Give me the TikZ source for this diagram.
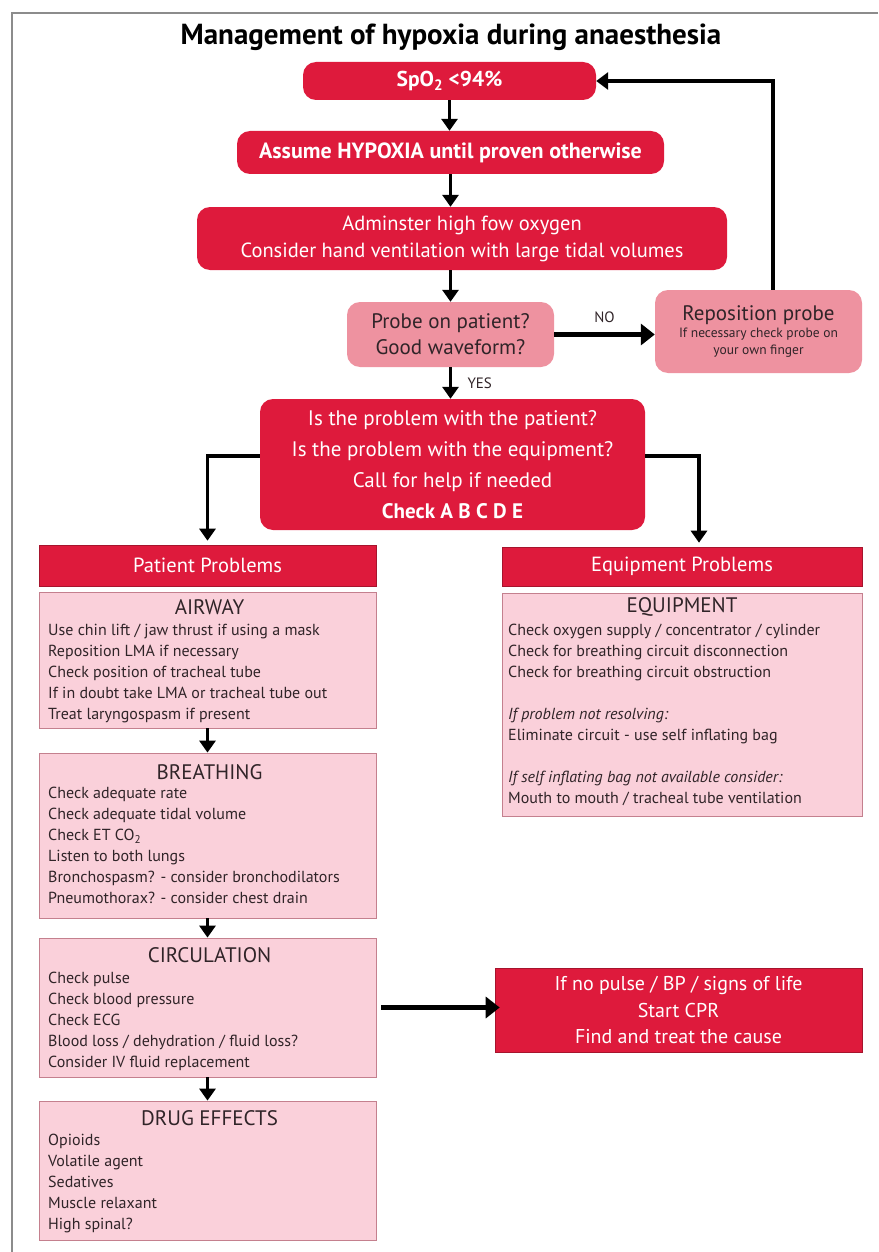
\documentclass[tikz,border=0pt]{standalone}
\usepackage{fontspec}
\setmainfont{PT Sans}
\usetikzlibrary{positioning, arrows.meta}
\definecolor{hypred}{RGB}{222,26,60}
\definecolor{probepink}{RGB}{238,146,160}
\definecolor{listpink}{RGB}{250,208,218}
\definecolor{listedge}{RGB}{196,128,142}
\definecolor{darktext}{RGB}{48,36,40}

\begin{document}
\begin{tikzpicture}[x=1pt, y=-1pt,
		redbox/.style={fill=hypred, text=white, rounded corners=13pt, align=center, inner sep=0pt},
		probebox/.style={fill=probepink, text=darktext, rounded corners=13pt, align=center, inner sep=0pt},
		headbox/.style={fill=hypred, draw=hypred!75!black, line width=0.6pt, text=white, inner sep=0pt, font=\fontsize{20.5}{24}\selectfont},
		listbox/.style={fill=listpink, draw=listedge, line width=0.8pt, inner sep=0pt, minimum width=337pt},
		listhead/.style={text=darktext, inner sep=0pt, font=\fontsize{21}{24}\selectfont},
		listbody/.style={text=darktext, inner sep=0pt, align=left, anchor=north west, font=\fontsize{16}{21}\selectfont},
		arr/.style={line width=3.5pt, -{Triangle[length=12pt, width=16pt]}},
		bigarr/.style={line width=5pt, -{Triangle[length=14pt, width=21pt]}},
		lbl/.style={text=darktext, font=\fontsize{15}{17}\selectfont}]
			\useasboundingbox (0,0) rectangle (878,1252);
			\draw[black!45, line width=1.5pt] (878,13) -- (12,13) -- (12,1252);
			\node[font=\fontsize{29}{32}\selectfont\bfseries] (title) at (451,37) {Management of hypoxia during anaesthesia};
			% top of the chart
			\node[redbox, minimum width=293pt, minimum height=38pt, font=\fontsize{21.5}{24}\selectfont\bfseries] (spo2) at (449.5,81) {SpO\textsubscript{2} <94\%};
			\node[redbox, minimum width=427pt, minimum height=43pt, font=\fontsize{22}{24}\selectfont\bfseries] (assume) at (450.5,152.5) {Assume HYPOXIA until proven otherwise};
			\node[redbox, minimum width=530pt, minimum height=63pt, font=\fontsize{20.5}{27}\selectfont] (admin) at (462,238.5) {Adminster high fow oxygen\\Consider hand ventilation with large tidal volumes};
			\node[probebox, minimum width=207pt, minimum height=65pt, font=\fontsize{21}{26}\selectfont] (probe) at (450.5,334.5) {Probe on patient?\\Good waveform?};
			\node[probebox, minimum width=207pt, minimum height=83pt, font=\fontsize{13.5}{17}\selectfont] (repos) at (758.5,331.5) {{\fontsize{21}{24}\selectfont Reposition probe}\\If necessary check probe on\\your own finger};
			\node[redbox, minimum width=385pt, minimum height=131pt, font=\fontsize{21}{31}\selectfont] (check) at (452.5,464.5) {Is the problem with the patient?\\Is the problem with the equipment?\\Call for help if needed\\\textbf{Check A B C D E}};
			\node[headbox, minimum width=337pt, minimum height=41pt] (patient) at (207.5,565.5) {Patient Problems};
			\node[headbox, minimum width=360pt, minimum height=39pt] (equip) at (682,566.5) {Equipment Problems};
			% patient side
			\node[listbox, minimum height=136pt] (airway) at (207.5,660) {};
			\node[listhead] (airwayhd) at (209.5,607) {AIRWAY};
			\node[listbody] (airwaytx) at (48,624) {Use chin lift / jaw thrust if using a mask\\Reposition LMA if necessary\\Check position of tracheal tube\\If in doubt take LMA or tracheal tube out\\Treat laryngospasm if present};
			\node[listbox, minimum height=165pt] (breath) at (207.5,835.5) {};
			\node[listhead] (breathhd) at (209.5,772) {BREATHING};
			\node[listbody] (breathtx) at (48,787) {Check adequate rate\\Check adequate tidal volume\\Check ET CO\textsubscript{2}\\Listen to both lungs\\Bronchospasm? - consider bronchodilators\\Pneumothorax? - consider chest drain};
			\node[listbox, minimum height=139pt] (circ) at (207.5,1007.5) {};
			\node[listhead] (circhd) at (209.5,955) {CIRCULATION};
			\node[listbody] (circtx) at (48,972) {Check pulse\\Check blood pressure\\Check ECG\\Blood loss / dehydration / fluid loss?\\Consider IV fluid replacement};
			\node[listbox, minimum height=139pt] (drug) at (207.5,1170.5) {};
			\node[listhead] (drughd) at (209.5,1118) {DRUG EFFECTS};
			\node[listbody] (drugtx) at (48,1134) {Opioids\\Volatile agent\\Sedatives\\Muscle relaxant\\High spinal?};
			% equipment side
			\node[listbox, minimum width=360pt, minimum height=223pt] (equiplist) at (682,704.5) {};
			\node[listhead] (equiphd) at (682,607) {EQUIPMENT};
			\node[listbody] (equiptx) at (508,624) {Check oxygen supply / concentrator / cylinder\\Check for breathing circuit disconnection\\Check for breathing circuit obstruction\\[21pt]\textit{If problem not resolving:}\\Eliminate circuit - use self inflating bag\\[21pt]\textit{If self inflating bag not available consider:}\\Mouth to mouth / tracheal tube ventilation};
			\node[headbox, minimum width=367pt, minimum height=84pt, align=center, font=\fontsize{20}{26.5}\selectfont] (cpr) at (678.5,1010) {If no pulse / BP / signs of life\\Start CPR\\Find and treat the cause};
			% arrows
			\draw[arr] (spo2.south) -- (spo2.south |- assume.north);
			\draw[arr] (assume.south) -- (assume.south |- admin.north);
			\draw[arr] (probe.north |- admin.south) -- (probe.north);
			\draw[bigarr] (probe.east) -- (probe.east -| repos.west) node[lbl, midway, above=6pt] {NO};
			\draw[line width=3.5pt, -{Triangle[length=12pt, width=17pt]}] ([xshift=14.5pt]repos.north) |- (spo2.east);
			\draw[arr] (probe.south) -- (probe.south |- check.north) node[lbl, midway, right=12pt] {YES};
			\draw[arr, shorten >=4pt] ([yshift=8.5pt]check.west) -| (patient.north);
			\draw[arr, shorten >=4pt] ([yshift=8.5pt]check.east) -| ([xshift=17pt]equip.north);
			\draw[arr] (airway.south) -- (breath.north);
			\draw[arr] (breath.south) -- (circ.north);
			\draw[arr] (circ.south) -- (drug.north);
			\draw[bigarr] ([xshift=5pt]circ.east) -- ([xshift=5pt]circ.east -| cpr.west);
			\end{tikzpicture}
\end{document}
